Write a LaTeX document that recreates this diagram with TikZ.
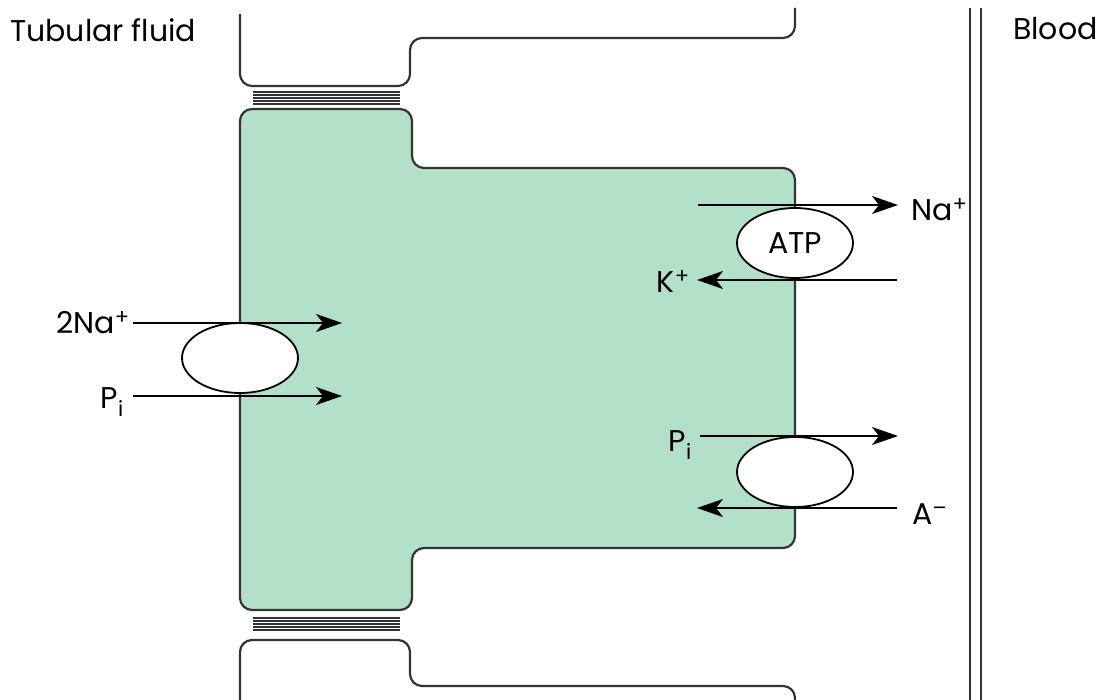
\documentclass[tikz,border=0pt]{standalone}
\usepackage{fontspec}
\setmainfont{Poppins}
\usetikzlibrary{shapes.geometric,arrows.meta}
\definecolor{cellgreen}{HTML}{B3E0C8}
\definecolor{ln}{HTML}{333333}
\tikzset{
  membrane/.style={draw=ln,line width=2.2pt,rounded corners=12pt},
  carrier/.style={ellipse,draw=black,line width=1.8pt,fill=white,minimum width=116pt,minimum height=70pt,inner sep=0pt,font=\fontsize{30}{34}\selectfont},
  flux/.style={draw=black,line width=2pt,-{Stealth[length=26pt,width=18pt,inset=7pt]}},
  lbl/.style={font=\fontsize{30}{34}\selectfont,inner sep=0pt},
  junction/.style={draw=ln,line width=1.5pt}
}
\begin{document}
\begin{tikzpicture}[x=1pt,y=-1pt]
\useasboundingbox (0,0) rectangle (1096,700);
% green cell
\path[membrane,fill=cellgreen] (240,610) -- (240,109) -- (412,109) -- (412,168) -- (795,168) -- (795,548) -- (412,548) -- (412,610) -- cycle;
% upper neighbour cell
\draw[membrane] (240,14) -- (240,86) -- (410,86) -- (410,38) -- (795,38) -- (795,8);
% lower neighbour cell
\draw[membrane] (240,705) -- (240,640) -- (410,640) -- (410,686) -- (795,686) -- (795,705);
% tight junctions
\foreach \y in {92,95,98,101,104} \draw[junction] (253,\y) -- (400,\y);
\foreach \y in {618,621,624,627,630} \draw[junction] (253,\y) -- (400,\y);
% blood vessel wall
\draw[draw=ln,line width=2pt] (970,8) -- (970,700);
\draw[draw=ln,line width=2pt] (981,8) -- (981,700);
% titles
\node[lbl,anchor=base west] (tf) at (10,42) {Tubular fluid};
\node[lbl,anchor=base west] (bl) at (1013,40) {Blood};
% carriers
\node[carrier] (c1) at (240,358) {};
\node[carrier] (atp) at (795,243) {ATP};
\node[carrier] (c3) at (795,472) {};
% left carrier fluxes
\coordinate (l1s) at (133,323); \coordinate (l1e) at (342,323);
\coordinate (l2s) at (133,396); \coordinate (l2e) at (342,396);
\draw[flux] (l1s) -- (l1e);
\draw[flux] (l2s) -- (l2e);
\node[lbl,anchor=east] (na2) at (130,323) {2Na\textsuperscript{+}};
\node[lbl,anchor=east] (pil) at (124,402) {P\textsubscript{i}};
% ATP pump fluxes
\coordinate (n1s) at (698,205); \coordinate (n1e) at (898,205);
\coordinate (k1s) at (897,280); \coordinate (k1e) at (697,280);
\draw[flux] (n1s) -- (n1e);
\draw[flux] (k1s) -- (k1e);
\node[lbl,anchor=west] (na) at (911,210) {Na\textsuperscript{+}};
\node[lbl,anchor=east] (kp) at (690,281) {K\textsuperscript{+}};
% Pi / A- exchanger fluxes
\coordinate (p1s) at (700,436); \coordinate (p1e) at (898,436);
\coordinate (a1s) at (897,508); \coordinate (a1e) at (697,508);
\draw[flux] (p1s) -- (p1e);
\draw[flux] (a1s) -- (a1e);
\node[lbl,anchor=east] (pir) at (692,445) {P\textsubscript{i}};
\node[lbl,anchor=west] (am) at (912,514) {A\textsuperscript{\textendash}};
\end{tikzpicture}
\end{document}
